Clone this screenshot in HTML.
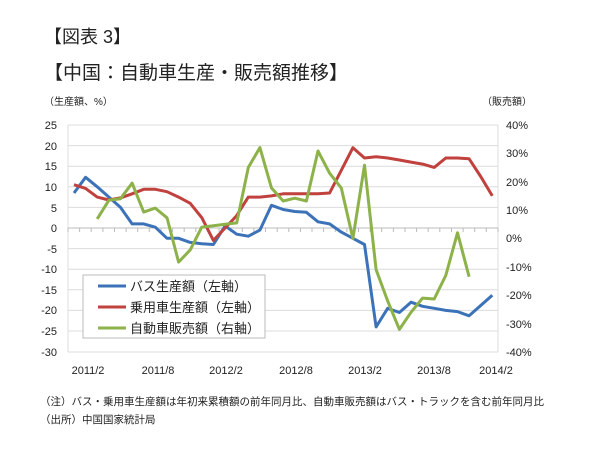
<!DOCTYPE html>
<html><head><meta charset="utf-8"><style>
body{margin:0;background:#fff;}
svg text{font-family:"Liberation Sans","Noto Sans CJK JP",sans-serif;fill:#222;}
</style></head><body>
<svg width="600" height="456" viewBox="0 0 600 456" xmlns="http://www.w3.org/2000/svg">
<text x="44" y="43" font-size="18">【図表 3】</text>
<text x="44" y="79" font-size="19">【中国：自動車生産・販売額推移】</text>
<text x="44" y="105" font-size="10">（生産額、%）</text>
<text x="482" y="105" font-size="10">（販売額）</text>
<g stroke="#dcdcdc" stroke-width="1">
<line x1="68" x2="498" y1="125" y2="125"/><line x1="68" x2="498" y1="145.6" y2="145.6"/><line x1="68" x2="498" y1="166.2" y2="166.2"/><line x1="68" x2="498" y1="186.8" y2="186.8"/><line x1="68" x2="498" y1="207.4" y2="207.4"/><line x1="68" x2="498" y1="248.6" y2="248.6"/><line x1="68" x2="498" y1="269.2" y2="269.2"/><line x1="68" x2="498" y1="289.8" y2="289.8"/><line x1="68" x2="498" y1="310.4" y2="310.4"/><line x1="68" x2="498" y1="331" y2="331"/><line x1="68" x2="498" y1="352" y2="352"/>
<line x1="68" x2="68" y1="125" y2="352"/><line x1="498" x2="498" y1="125" y2="352"/>
</g>
<line x1="68" x2="498" y1="228" y2="228" stroke="#bbb"/>
<path stroke="#bbb" d="M68 228v4M79.6 228v4M91.2 228v4M102.9 228v4M114.5 228v4M126.1 228v4M137.7 228v4M149.3 228v4M161 228v4M172.6 228v4M184.2 228v4M195.8 228v4M207.4 228v4M219.1 228v4M230.7 228v4M242.3 228v4M253.9 228v4M265.5 228v4M277.2 228v4M288.8 228v4M300.4 228v4M312 228v4M323.6 228v4M335.3 228v4M346.9 228v4M358.5 228v4M370.1 228v4M381.7 228v4M393.4 228v4M405 228v4M416.6 228v4M428.2 228v4M439.8 228v4M451.5 228v4M463.1 228v4M474.7 228v4M486.3 228v4M498 228v4"/>
<g font-size="11" text-anchor="end">
<text x="57" y="129">25</text><text x="57" y="150">20</text><text x="57" y="170">15</text><text x="57" y="191">10</text><text x="57" y="212">5</text><text x="57" y="232">0</text><text x="57" y="253">-5</text><text x="57" y="273">-10</text><text x="57" y="294">-15</text><text x="57" y="314">-20</text><text x="57" y="335">-25</text><text x="57" y="356">-30</text>
</g>
<g font-size="11">
<text x="506" y="129">40%</text><text x="506" y="157">30%</text><text x="506" y="186">20%</text><text x="506" y="214">10%</text><text x="506" y="242">0%</text><text x="506" y="271">-10%</text><text x="506" y="299">-20%</text><text x="506" y="328">-30%</text><text x="506" y="356">-40%</text>
</g>
<g font-size="11" text-anchor="middle">
<text x="88" y="374">2011/2</text><text x="158" y="374">2011/8</text><text x="226" y="374">2012/2</text><text x="296" y="374">2012/8</text><text x="365" y="374">2013/2</text><text x="434" y="374">2013/8</text><text x="496" y="374">2014/2</text>
</g>
<g fill="none" stroke-width="3" stroke-linejoin="round">
<polyline stroke="#3c72b8" points="74,193 85.6,177.3 97.2,186.8 108.9,197.1 120.5,207.4 132.1,223.9 143.7,223.9 155.3,227.2 167,238.3 178.6,238.3 190.2,242.4 201.8,243.7 213.4,244.5 225.1,225.9 236.7,234.2 248.3,236.2 259.9,230.1 271.5,205.3 283.2,209.5 294.8,211.5 306.4,212.3 318,221.8 329.6,223.9 341.3,232.1 352.9,238.3 364.5,244.5 376.1,326.9 387.7,308.3 399.4,312.5 411,302.2 422.6,306.3 434.2,308.3 445.8,310.4 457.5,311.6 469.1,315.8 480.7,305.5 492.3,295.2"/>
<polyline stroke="#c0413d" points="74,184.7 85.6,188.4 97.2,197.1 108.9,200 120.5,197.9 132.1,193.8 143.7,189.3 155.3,189.3 167,191.7 178.6,197.1 190.2,203.3 201.8,217.7 213.4,240.4 225.1,228 236.7,215.6 248.3,197.1 259.9,197.1 271.5,195.9 283.2,193.8 294.8,193.8 306.4,193.8 318,193.8 329.6,193 341.3,170.3 352.9,147.7 364.5,158 376.1,156.7 387.7,158 399.4,160 411,162.1 422.6,164.1 434.2,167.4 445.8,158 457.5,158 469.1,158.8 480.7,176.5 492.3,195.9"/>
<polyline stroke="#8db24a" points="97.2,218.9 108.9,200.2 120.5,198.7 132.1,183.1 143.7,212.1 155.3,208.1 167,217.8 178.6,262.1 190.2,249.9 201.8,227.1 213.4,225.7 225.1,224.3 236.7,222.9 248.3,167.5 259.9,147.6 271.5,188 283.2,201 294.8,198.2 306.4,201 318,151 329.6,173.2 341.3,188 352.9,238.5 364.5,165.2 376.1,269.7 387.7,301 399.4,329.4 411,312.3 422.6,298.1 434.2,299 445.8,275.4 457.5,232.8 469.1,276.8"/>
</g>
<rect x="83" y="275" width="182" height="63" fill="#fff" stroke="#bbb"/>
<line x1="98" x2="126" y1="286" y2="286" stroke="#3c72b8" stroke-width="3"/>
<line x1="98" x2="126" y1="307" y2="307" stroke="#c0413d" stroke-width="3"/>
<line x1="98" x2="126" y1="328" y2="328" stroke="#8db24a" stroke-width="3"/>
<text x="130" y="291" font-size="13">バス生産額（左軸）</text>
<text x="130" y="312" font-size="13">乗用車生産額（左軸）</text>
<text x="130" y="333" font-size="13">自動車販売額（右軸）</text>
<text x="40" y="405" font-size="10.5">（注）バス・乗用車生産額は年初来累積額の前年同月比、自動車販売額はバス・トラックを含む前年同月比</text>
<text x="40" y="423" font-size="10.5">（出所）中国国家統計局</text>
</svg>
</body></html>
